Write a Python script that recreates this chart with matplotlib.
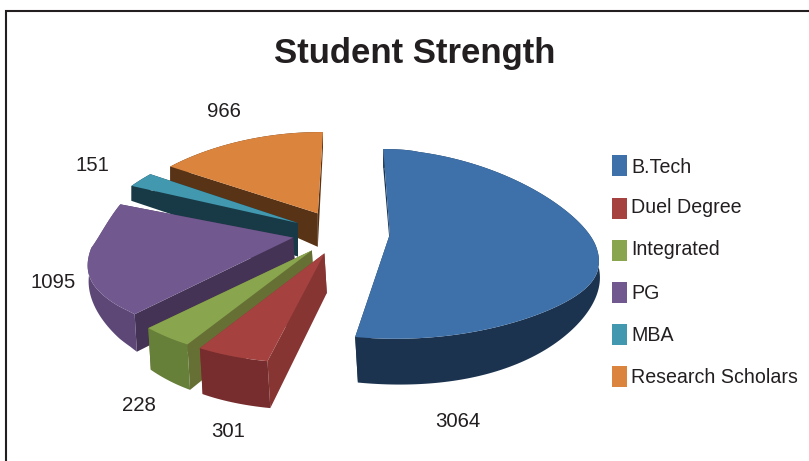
import numpy as np
import matplotlib
matplotlib.use("Agg")
import matplotlib.pyplot as plt
from matplotlib.patches import Rectangle

plt.rcParams['font.family'] = ['Liberation Sans', 'DejaVu Sans']

categories = ["B.Tech", "Duel Degree", "Integrated", "PG", "MBA", "Research Scholars"]
values = [3064, 301, 228, 1095, 151, 966]
top_colors = ["#3E71A9", "#A54240", "#89A54E", "#71588F", "#4198AF", "#DB843D"]
rim_colors = ["#1C3350", "#772D2D", "#667F39", "#5C4776", "#183A46", "#593316"]
radial_colors = ["#1C3350", "#863533", "#667035", "#443355", "#183A46", "#593316"]
draw_order = [5, 4, 3, 2, 1, 0]
label_xy = [(458, 421), (228, 431), (139, 405), (53, 282), (92, 165), (224, 111)]
legend_y = [165.5, 208, 250.5, 292.5, 334.5, 376.5]
legend_text_y = [167, 207, 249, 293, 335, 377]

TEXT = "#231F20"
CX, CY, A, B, P, EXPLODE, TAPER = 341, 232, 207, 93.4, 0.105, 0.236, 0.14
SAG = 10.5
DEPTH_C = 38


def top_xy(X, Y):
    w = 1 + P * Y
    pos = np.maximum(Y, 0)
    taper = np.where(X > 0, 0.2 * pos ** 2 * np.clip(X / 0.5, 0, 1) ** 2, TAPER * pos)
    sx = CX + A * X / w * (1 - taper)
    sx = sx + 20 * np.maximum(-X - 1, 0)
    sx = sx - 30 * np.maximum(-Y - 0.75, 0) * (X < 0)
    sy = CY - B * Y / w
    u = np.clip(Y / 0.45, 0, 1)
    left_back = 1 - 1.4 * u * u * (3 - 2 * u)
    right_back = np.clip(1 - Y ** 2, 0, 1) ** 1.5
    front = np.clip(1 - Y ** 2, 0, 1) ** 1.5
    fade = np.where(Y < 0, front, np.where(X > 0, right_back, left_back))
    sy = sy + SAG * X ** 2 * fade
    return sx, sy


def bottom_xy(X, Y):
    sx, sy = top_xy(X, Y)
    rad = np.hypot(X, Y)
    t = -Y / np.maximum(rad, 1e-6)
    rim = 15 + 32 * np.sin(np.pi / 2 * np.clip(t, 0, 1)) ** 2.27
    d = DEPTH_C + (rim - DEPTH_C) * np.minimum(rad, 1.2) / 1.2
    return sx + 0.06 * d * (Y < 0), sy + d


fig = plt.figure(figsize=(8.09, 4.61), dpi=100)
ax = fig.add_axes([0, 0, 1, 1])
ax.set_xlim(0, 809)
ax.set_ylim(461, 0)
ax.axis("off")

ax.plot([6.5, 6.5, 809], [461, 11, 11], color=TEXT, lw=1.5, solid_joinstyle="miter")

vals = np.array(values, dtype=float)
edges = 90 - np.concatenate([[0], np.cumsum(vals)]) / vals.sum() * 360

for i in draw_order:
    a1, a2 = np.radians(edges[i]), np.radians(edges[i + 1])
    mid = (a1 + a2) / 2
    ox, oy = EXPLODE * np.cos(mid), EXPLODE * np.sin(mid)
    th = np.linspace(a1, a2, 160)
    X, Y = ox + np.cos(th), oy + np.sin(th)
    tx, ty = top_xy(X, Y)
    bx, by = bottom_xy(X, Y)
    t0x, t0y = top_xy(np.array([ox]), np.array([oy]))
    b0x, b0y = bottom_xy(np.array([ox]), np.array([oy]))
    for k in (0, -1):
        ax.fill([t0x[0], tx[k], bx[k], b0x[0]], [t0y[0], ty[k], by[k], b0y[0]],
                color=radial_colors[i], lw=0)
    ax.fill(np.r_[tx, bx[::-1]], np.r_[ty, by[::-1]], color=rim_colors[i], lw=0)
    ax.fill(np.r_[t0x, tx], np.r_[t0y, ty], color=top_colors[i], lw=0)

for v, (x, y) in zip(values, label_xy):
    ax.text(x, y, str(v), ha="center", va="center", fontsize=14.7, color=TEXT)

for name, col, ly, ty in zip(categories, top_colors, legend_y, legend_text_y):
    ax.add_patch(Rectangle((612, ly - 10.5), 15, 21, facecolor=col, edgecolor="none"))
    ax.text(631, ty, name, ha="left", va="center", fontsize=14.1, color=TEXT)

ax.text(414.5, 53, "Student Strength", ha="center", va="center",
        fontsize=25, fontweight="bold", color=TEXT)

fig.savefig("out.png", dpi=100)
